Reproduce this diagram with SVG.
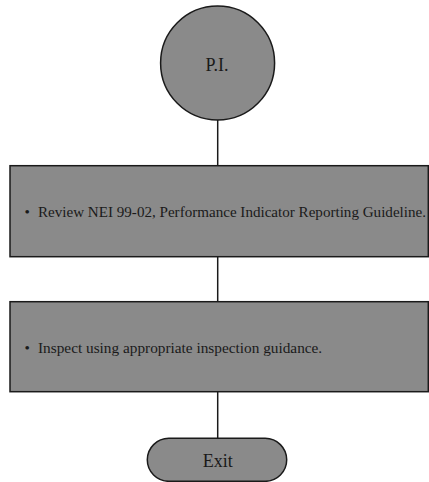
<svg xmlns="http://www.w3.org/2000/svg" width="429" height="482" viewBox="0 0 429 482">
<style>
.shape{fill:#8a8a8a;stroke:#1a1a1a;stroke-width:1.5}
.conn{stroke:#1a1a1a;stroke-width:1.5;fill:none}
text{font-family:"Liberation Serif","Times New Roman",serif;fill:#1a1a1a}
.big{font-size:18px;text-anchor:middle}
.body{font-size:15.3px}
</style>
<rect width="429" height="482" fill="#ffffff"/>
<g id="connectors">
<line class="conn" x1="217.7" y1="120" x2="217.7" y2="165.7"/>
<line class="conn" x1="217.7" y1="256.7" x2="217.7" y2="301.7"/>
<line class="conn" x1="217.7" y1="391.7" x2="217.7" y2="438.3"/>
</g>
<g id="pi">
<circle class="shape" cx="217.6" cy="63" r="57"/>
<text class="big" x="217" y="71">P.I.</text>
</g>
<g id="review">
<rect class="shape" x="10" y="165.7" width="418.3" height="91"/>
<text class="body" x="24.5" y="216.7">•</text>
<text class="body" x="38" y="216.7" textLength="388" lengthAdjust="spacingAndGlyphs">Review NEI 99-02, Performance Indicator Reporting Guideline.</text>
</g>
<g id="inspect">
<rect class="shape" x="10" y="301.7" width="418.3" height="90"/>
<text class="body" x="24.5" y="353">•</text>
<text class="body" x="38" y="353">Inspect using appropriate inspection guidance.</text>
</g>
<g id="exit">
<rect class="shape" x="147.3" y="438.3" width="139.4" height="43" rx="21.5" ry="21.5"/>
<text class="big" x="217.7" y="466.7">Exit</text>
</g>
</svg>
